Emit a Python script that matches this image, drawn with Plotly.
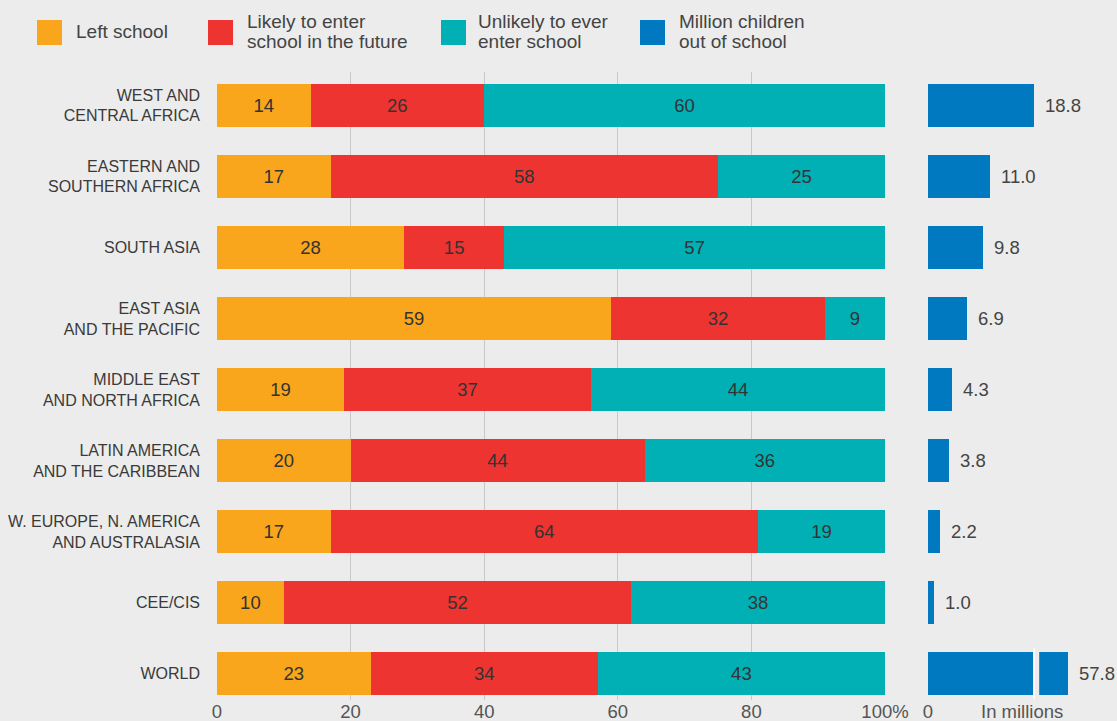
import plotly.graph_objects as go

regions = ["WEST AND<br>CENTRAL AFRICA", "EASTERN AND<br>SOUTHERN AFRICA", "SOUTH ASIA",
           "EAST ASIA<br>AND THE PACIFIC", "MIDDLE EAST<br>AND NORTH AFRICA",
           "LATIN AMERICA<br>AND THE CARIBBEAN", "W. EUROPE, N. AMERICA<br>AND AUSTRALASIA",
           "CEE/CIS", "WORLD"]
left_school = [14, 17, 28, 59, 19, 20, 17, 10, 23]
likely_enter = [26, 58, 15, 32, 37, 44, 64, 52, 34]
unlikely_enter = [60, 25, 57, 9, 44, 36, 19, 38, 43]
millions_out = [18.8, 11.0, 9.8, 6.9, 4.3, 3.8, 2.2, 1.0, 57.8]
pct_ticks = [0, 20, 40, 60, 80, 100]
pct_ticktext = ["0", "20", "40", "60", "80", "100%"]

series_names = ["Left school", "Likely to enter<br>school in the future",
                "Unlikely to ever<br>enter school", "Million children<br>out of school"]
colors = ["#F9A61C", "#EE3431", "#00B0B4", "#0079C1"]
BG = "#EBECEB"
FONT = "Liberation Sans, Arial, Helvetica, sans-serif"
W, H = 1117, 721

RIGHT_MAX = 24.8
BREAK = (18.6, 19.7)

fig = go.Figure()
for vals, name, col in zip([left_school, likely_enter, unlikely_enter], series_names[:3], colors[:3]):
    fig.add_trace(go.Bar(
        y=regions, x=vals, orientation="h", name=name, marker=dict(color=col, line=dict(width=0)),
        text=[str(v) for v in vals], textposition="inside", insidetextanchor="middle",
        textfont=dict(size=18.5, color="#333333", family=FONT), xaxis="x", yaxis="y",
        showlegend=False, hoverinfo="x+y"))

fig.add_trace(go.Bar(
    y=regions, x=millions_out, orientation="h", name=series_names[3],
    marker=dict(color=colors[3], line=dict(width=0)), xaxis="x2", yaxis="y",
    showlegend=False, hoverinfo="x+y"))

def px_x(p):
    return p / W

def px_y(p):
    return 1 - p / H

shapes = []
annotations = []

# value labels for right panel
for r, v in zip(regions, millions_out):
    annotations.append(dict(x=min(v, RIGHT_MAX), y=r, xref="x2", yref="y", text=f"{v:.1f}",
                            showarrow=False, xanchor="left", xshift=9,
                            font=dict(size=18.5, color="#444444", family=FONT)))

# axis break on the WORLD bar
shapes.append(dict(type="rect", xref="x2", yref="y", x0=BREAK[0], x1=BREAK[1],
                   y0=8 - 0.36, y1=8 + 0.36, fillcolor=BG, line=dict(width=0), layer="above"))
shapes.append(dict(type="line", xref="x2", yref="y", x0=BREAK[0] + 0.2, x1=BREAK[0] + 0.2,
                   y0=8 - 0.36, y1=8 + 0.36, line=dict(color="white", width=1.5), layer="above"))

# custom legend
leg_sq = [37, 208, 441, 640]
leg_txt = [74, 245, 476, 677]
for name, col, sx, tx in zip(series_names, colors, leg_sq, leg_txt):
    shapes.append(dict(type="rect", xref="paper", yref="paper", x0=px_x(sx), x1=px_x(sx + 25),
                       y0=px_y(45), y1=px_y(20), fillcolor=col, line=dict(width=0)))
    lines = name.split("<br>")
    ys = [32] if len(lines) == 1 else [22, 42]
    for ln, yy in zip(lines, ys):
        annotations.append(dict(x=px_x(tx), y=px_y(yy), xref="paper", yref="paper", text=ln,
                                showarrow=False, xanchor="left", yanchor="middle",
                                font=dict(size=19, color="#444444", family=FONT)))

# "In millions" label
annotations.append(dict(x=px_x(1022), y=px_y(711), xref="paper", yref="paper", text="In millions",
                        showarrow=False, xanchor="center", yanchor="middle",
                        font=dict(size=18.5, color="#555555", family=FONT)))

fig.update_layout(
    width=W, height=H, barmode="stack", bargap=0.39,
    paper_bgcolor=BG, plot_bgcolor=BG,
    margin=dict(l=0, r=0, t=0, b=0, autoexpand=False),
    font=dict(family=FONT, color="#444444"),
    xaxis=dict(domain=[px_x(217), px_x(885)], range=[0, 100], tickvals=pct_ticks,
               ticktext=pct_ticktext, showgrid=True, gridcolor="#C8C8C8", gridwidth=1,
               zeroline=False, showline=False, anchor="y", automargin=False,
               ticklabelstandoff=-2,
               tickfont=dict(size=18.5, color="#555555", family=FONT), ticks=""),
    xaxis2=dict(domain=[px_x(928), px_x(1068)], range=[0, RIGHT_MAX], tickvals=[0], ticktext=["0"],
                showgrid=True, gridcolor="#C8C8C8", zeroline=False, showline=False, anchor="y",
                automargin=False, ticklabelstandoff=-2,
                tickfont=dict(size=18.5, color="#555555", family=FONT), ticks=""),
    yaxis=dict(domain=[px_y(700), px_y(72)], type="category", categoryorder="array",
               categoryarray=regions, range=[8.37, -0.47], anchor="x", automargin=False,
               showgrid=False, zeroline=False, showline=False, ticks="",
               ticklabelstandoff=16,
               tickfont=dict(size=16, color="#3A3A3A", family=FONT)),
    shapes=shapes, annotations=annotations,
)

fig.write_html("out.html", config={"displayModeBar": False},
               post_script="document.body.style.margin='0';document.body.style.overflow='hidden';")
